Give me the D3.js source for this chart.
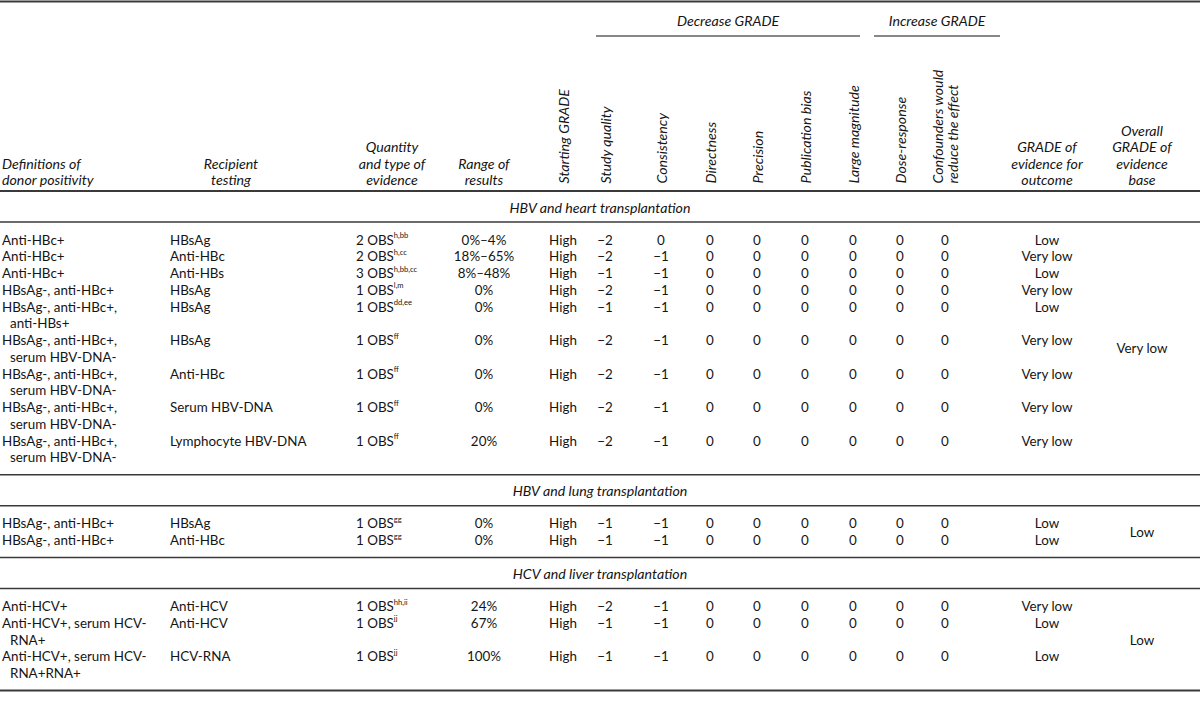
<!DOCTYPE html>
<html><head><meta charset="utf-8">
<script src="https://cdn.jsdelivr.net/npm/d3@7"></script>
<style>
html,body{margin:0;padding:0;background:#fff;}
svg{display:block;}
text{font-family:Lato,"Noto Sans",sans-serif;fill:#151515;}
</style></head><body>
<svg id="chart" width="1200" height="709"></svg>
<script>
// ---------------- DATA ----------------
const sectionTitles = ["HBV and heart transplantation", "HBV and lung transplantation", "HCV and liver transplantation"];
const sectionIndex = [0,0,0,0,0,0,0,0,0,1,1,2,2,2];
const donorDefinitions = [
  ["Anti-HBc+"], ["Anti-HBc+"], ["Anti-HBc+"], ["HBsAg-, anti-HBc+"],
  ["HBsAg-, anti-HBc+,", "anti-HBs+"],
  ["HBsAg-, anti-HBc+,", "serum HBV-DNA-"],
  ["HBsAg-, anti-HBc+,", "serum HBV-DNA-"],
  ["HBsAg-, anti-HBc+,", "serum HBV-DNA-"],
  ["HBsAg-, anti-HBc+,", "serum HBV-DNA-"],
  ["HBsAg-, anti-HBc+"], ["HBsAg-, anti-HBc+"],
  ["Anti-HCV+"],
  ["Anti-HCV+, serum HCV-", "RNA+"],
  ["Anti-HCV+, serum HCV-", "RNA+RNA+"]
];
const recipientTests = ["HBsAg","Anti-HBc","Anti-HBs","HBsAg","HBsAg","HBsAg","Anti-HBc","Serum HBV-DNA","Lymphocyte HBV-DNA","HBsAg","Anti-HBc","Anti-HCV","Anti-HCV","HCV-RNA"];
const evidenceCounts = ["2 OBS","2 OBS","3 OBS","1 OBS","1 OBS","1 OBS","1 OBS","1 OBS","1 OBS","1 OBS","1 OBS","1 OBS","1 OBS","1 OBS"];
const evidenceRefs = ["h,bb","h,cc","h,bb,cc","l,m","dd,ee","ff","ff","ff","ff","gg","gg","hh,ii","jj","jj"];
const resultRanges = ["0%–4%","18%–65%","8%–48%","0%","0%","0%","0%","0%","20%","0%","0%","24%","67%","100%"];
const startingGrade = ["High","High","High","High","High","High","High","High","High","High","High","High","High","High"];
const studyQuality = [-2,-2,-1,-2,-1,-2,-2,-2,-2,-1,-1,-2,-1,-1];
const consistency = [0,-1,-1,-1,-1,-1,-1,-1,-1,-1,-1,-1,-1,-1];
const directness = [0,0,0,0,0,0,0,0,0,0,0,0,0,0];
const precision = [0,0,0,0,0,0,0,0,0,0,0,0,0,0];
const publicationBias = [0,0,0,0,0,0,0,0,0,0,0,0,0,0];
const largeMagnitude = [0,0,0,0,0,0,0,0,0,0,0,0,0,0];
const doseResponse = [0,0,0,0,0,0,0,0,0,0,0,0,0,0];
const confounders = [0,0,0,0,0,0,0,0,0,0,0,0,0,0];
const outcomeGrades = ["Low","Very low","Low","Very low","Low","Very low","Very low","Very low","Very low","Low","Low","Very low","Low","Low"];
const overallGrades = ["Very low","Low","Low"];
const groupHeaders = ["Decrease GRADE","Increase GRADE"];
const horizontalHeaders = {
  def: ["Definitions of","donor positivity"],
  rec: ["Recipient","testing"],
  qty: ["Quantity","and type of","evidence"],
  range: ["Range of","results"],
  outcome: ["GRADE of","evidence for","outcome"],
  overall: ["Overall","GRADE of","evidence","base"]
};
const rotatedHeaders = {
  start: ["Starting GRADE"], sq: ["Study quality"], cons: ["Consistency"], dir: ["Directness"],
  prec: ["Precision"], pub: ["Publication bias"], large: ["Large magnitude"], dose: ["Dose-response"],
  conf: ["Confounders would","reduce the effect"]
};

// ---------------- LAYOUT ----------------
const svg = d3.select("#chart");
const W = 1200;
const FS = 13.4, HFS = 14.2, SUP = 7.6;
const colKeys = ["def","rec","qty","range","start","sq","cons","dir","prec","pub","large","dose","conf","outcome","overall"];
const colX = d3.scaleOrdinal().domain(colKeys)
  .range([2, 170, 356, 484, 563, 605, 661, 710, 757, 805, 853, 900, 945, 1047, 1142]);
const headerCenterX = d3.scaleOrdinal().domain(["def","rec","qty","range","outcome","overall"])
  .range([2, 231, 392, 484, 1047, 1142]);
const groupSpan = [[596, 860], [874, 1000]];
const pitch = 16.75;
const headerRuleY = 191;

const ruleColor = "#3a3a3a";
function rule(y, w) {
  svg.append("line").attr("x1", 0).attr("x2", W).attr("y1", y).attr("y2", y)
    .attr("stroke", ruleColor).attr("stroke-width", w || 2);
}

// top rule
rule(1.5, 2);
// group headers
groupHeaders.forEach((g, i) => {
  const [a, b] = groupSpan[i];
  svg.append("text").attr("x", (a + b) / 2).attr("y", 20).attr("text-anchor", "middle")
    .attr("dominant-baseline", "central").attr("font-style", "italic").attr("font-size", HFS).text(g);
  svg.append("line").attr("x1", a).attr("x2", b).attr("y1", 36).attr("y2", 36)
    .attr("stroke", "#111").attr("stroke-width", 1);
});
// horizontal headers (bottom aligned)
const headerLastY = 179.5;
Object.entries(horizontalHeaders).forEach(([k, lines]) => {
  const anchor = k === "def" ? "start" : "middle";
  lines.forEach((t, j) => {
    svg.append("text").attr("x", headerCenterX(k)).attr("y", headerLastY - (lines.length - 1 - j) * 16.5)
      .attr("text-anchor", anchor).attr("dominant-baseline", "central")
      .attr("font-style", "italic").attr("font-size", HFS).text(t);
  });
});
// rotated headers
Object.entries(rotatedHeaders).forEach(([k, lines]) => {
  lines.forEach((t, j) => {
    const x = colX(k) + (j - (lines.length - 1) / 2) * 14.5;
    svg.append("text").attr("transform", `translate(${x},183.5) rotate(-90)`)
      .attr("text-anchor", "start").attr("dominant-baseline", "central")
      .attr("font-style", "italic").attr("font-size", HFS).text(t);
  });
});
rule(headerRuleY, 2);

// sections
let y = headerRuleY;
const numCols = [
  ["sq", studyQuality], ["cons", consistency], ["dir", directness], ["prec", precision],
  ["pub", publicationBias], ["large", largeMagnitude], ["dose", doseResponse], ["conf", confounders]
];
const fmt = v => v < 0 ? "\u2212" + Math.abs(v) : String(v);

sectionTitles.forEach((title, s) => {
  svg.append("text").attr("x", W / 2).attr("y", y + 16).attr("text-anchor", "middle")
    .attr("dominant-baseline", "central").attr("font-style", "italic").attr("font-size", HFS).text(title);
  y += 31;
  rule(y, 1.6);
  const rows = d3.range(sectionIndex.length).filter(i => sectionIndex[i] === s);
  const nLines = d3.sum(rows, i => donorDefinitions[i].length);
  const lineY = d3.scaleLinear().domain([0, 1]).range([y + 17.5, y + 17.5 + pitch]);
  let li = 0;
  const g = svg.append("g");
  rows.forEach(i => {
    const ry = lineY(li);
    donorDefinitions[i].forEach((t, j) => {
      g.append("text").attr("x", colX("def") + (j ? 8 : 0)).attr("y", lineY(li + j))
        .attr("dominant-baseline", "central").attr("font-size", FS).text(t);
    });
    g.append("text").attr("x", colX("rec")).attr("y", ry).attr("dominant-baseline", "central")
      .attr("font-size", FS).text(recipientTests[i]);
    const q = g.append("text").attr("x", colX("qty")).attr("y", ry).attr("dominant-baseline", "central")
      .attr("font-size", FS);
    q.append("tspan").text(evidenceCounts[i]);
    q.append("tspan").attr("font-size", SUP).attr("dy", -4.5).text(evidenceRefs[i]);
    g.append("text").attr("x", colX("range")).attr("y", ry).attr("text-anchor", "middle")
      .attr("dominant-baseline", "central").attr("font-size", FS).text(resultRanges[i]);
    g.append("text").attr("x", colX("start")).attr("y", ry).attr("text-anchor", "middle")
      .attr("dominant-baseline", "central").attr("font-size", FS).text(startingGrade[i]);
    numCols.forEach(([k, arr]) => {
      g.append("text").attr("x", colX(k)).attr("y", ry).attr("text-anchor", "middle")
        .attr("dominant-baseline", "central").attr("font-size", FS).text(fmt(arr[i]));
    });
    g.append("text").attr("x", colX("outcome")).attr("y", ry).attr("text-anchor", "middle")
      .attr("dominant-baseline", "central").attr("font-size", FS).text(outcomeGrades[i]);
    li += donorDefinitions[i].length;
  });
  g.append("text").attr("x", colX("overall")).attr("y", (lineY(0) + lineY(nLines - 1)) / 2)
    .attr("text-anchor", "middle").attr("dominant-baseline", "central").attr("font-size", FS)
    .text(overallGrades[s]);
  y = lineY(nLines - 1) + 17.5;
  rule(y, s === sectionTitles.length - 1 ? 2 : 1.6);
});
</script>
</body></html>
